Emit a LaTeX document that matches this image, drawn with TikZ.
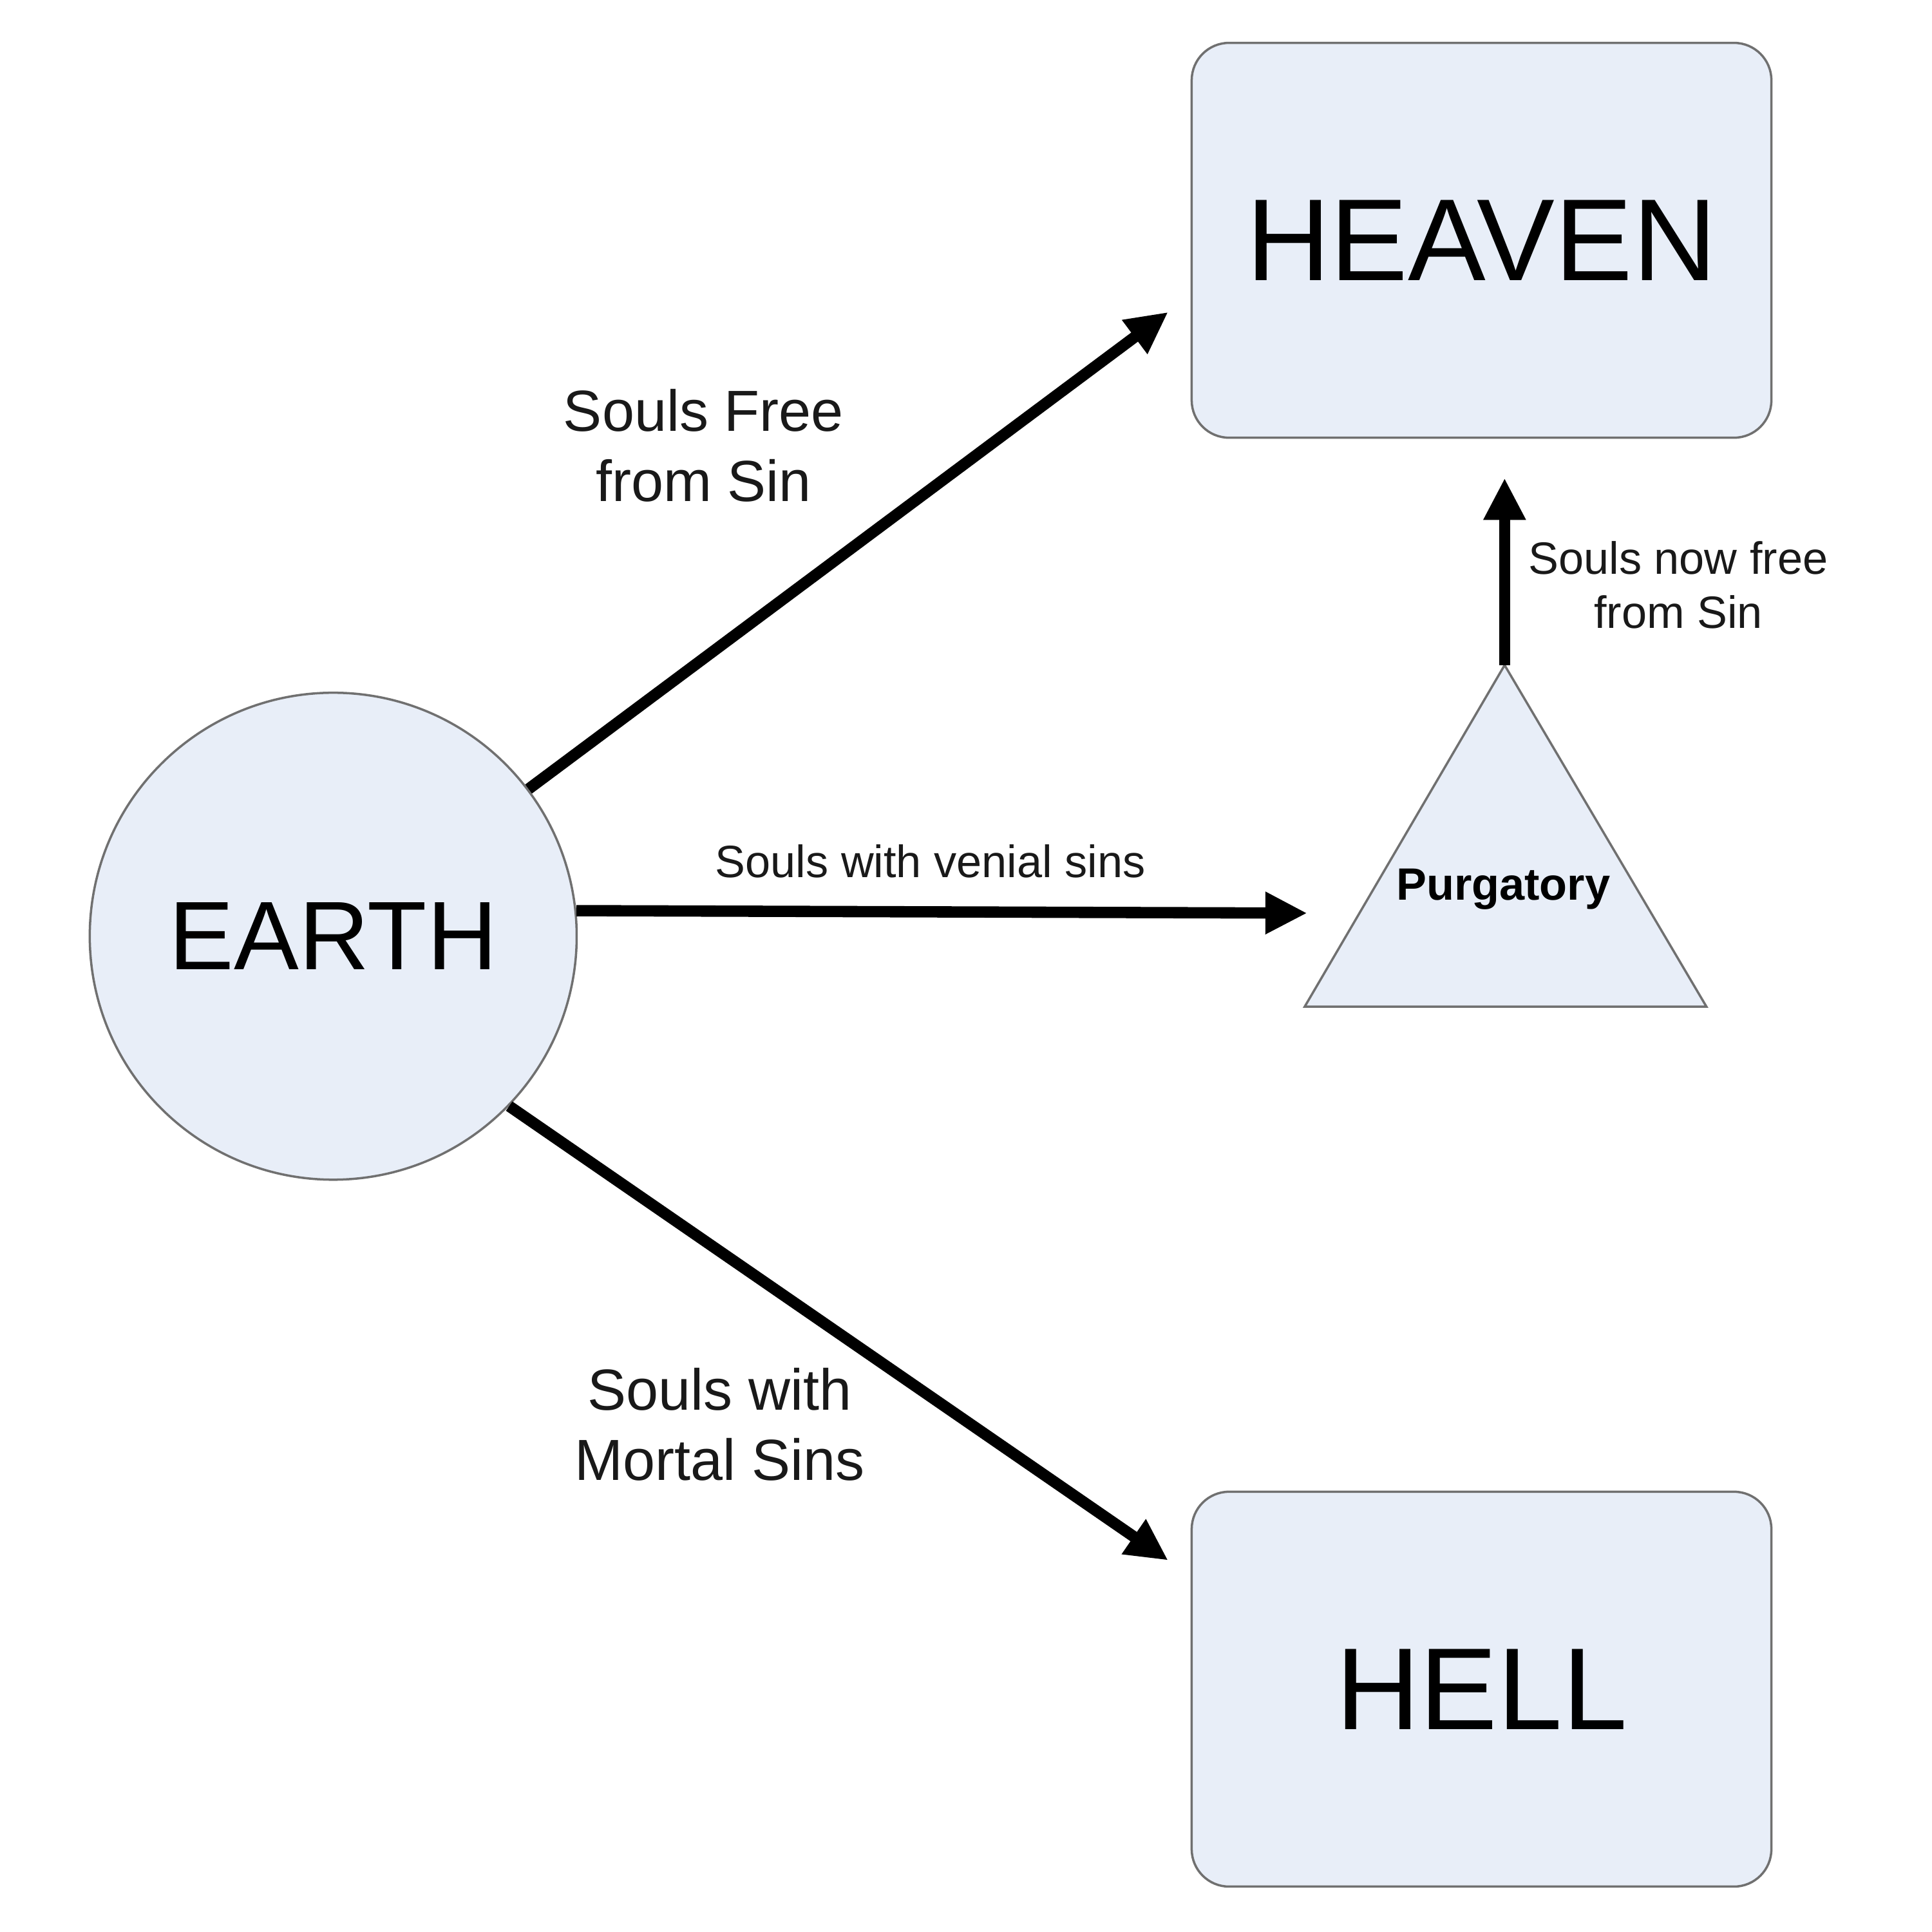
\documentclass[tikz,border=0pt]{standalone}
\usepackage{fontspec}
\setmainfont{Liberation Sans}
\usetikzlibrary{arrows.meta}
\definecolor{shapefill}{RGB}{232,238,248}
\definecolor{shapeline}{RGB}{112,112,112}
\definecolor{labeltext}{RGB}{25,25,25}
\tikzset{
  shapebox/.style={draw=shapeline, fill=shapefill, line width=1pt, inner sep=0pt},
  placebox/.style={shapebox, rectangle, rounded corners=0.58cm, minimum width=9.0cm, minimum height=6.13cm, font=\fontsize{51.5}{60}\selectfont},
  earthnode/.style={shapebox, circle, minimum size=7.56cm, font=\fontsize{43}{50}\selectfont},
  arr/.style={line width=5pt, -{Triangle[length=18.5pt,width=17.5pt]}},
  biglabel/.style={align=center, text=labeltext, inner sep=0pt, font=\fontsize{25.6}{31}\selectfont},
  smalllabel/.style={align=center, text=labeltext, inner sep=0pt, font=\fontsize{20}{24}\selectfont},
}
\begin{document}
\begin{tikzpicture}[x=0.00995cm,y=-0.00995cm]
\useasboundingbox (0,0) rectangle (3015,3015);
\fill[white] (0,0) rectangle (3015,3015);

\node[placebox] (heaven) at (2312,375) {HEAVEN};
\node[placebox] (hell) at (2312,2636) {HELL};
\node[earthnode] (earth) at (520,1461) {EARTH};

\draw[draw=shapeline, fill=shapefill, line width=1pt, line join=miter]
  (2348,1038) coordinate (papex) -- (2036,1571) coordinate (pleft) -- (2663,1571) coordinate (pright) -- cycle;
\node[inner sep=0pt, font=\bfseries\fontsize{20}{24}\selectfont] (purg) at (2346,1388) {Purgatory};

\coordinate (hvtip) at (1823,487);
\coordinate (pgtip) at (2040,1425);
\coordinate (hltip) at (1823,2435);
\coordinate (hvbot) at (2348,746);

\draw[arr] (earth.37.8) -- (hvtip);
\draw[arr] (earth.6.4) -- (pgtip);
\draw[arr] (earth.-44.8) -- (hltip);
\draw[arr] (papex) -- (hvbot);

\node[biglabel] (lfree) at (1098,695) {Souls Free\\from Sin};
\node[smalllabel] (lvenial) at (1452,1344) {Souls with venial sins};
\node[smalllabel] (lnow) at (2619,913) {Souls now free\\from Sin};
\node[biglabel] (lmortal) at (1123,2223) {Souls with\\Mortal Sins};
\end{tikzpicture}
\end{document}
